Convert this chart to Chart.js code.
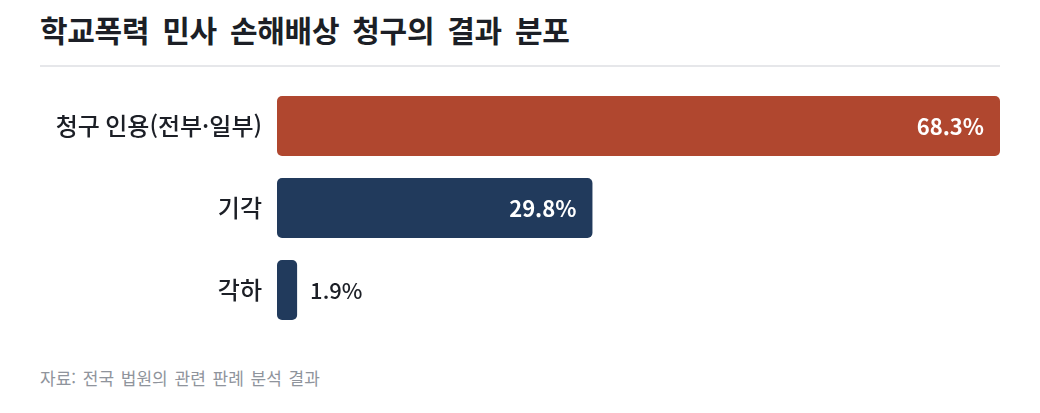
<!DOCTYPE html>
<html lang="ko">
<head>
<meta charset="utf-8">
<script src="https://cdn.jsdelivr.net/npm/chart.js@4.4.1/dist/chart.umd.min.js"></script>
<style>
  html, body { margin:0; padding:0; background:#ffffff; }
  body { width:1040px; height:413px; position:relative; overflow:hidden; font-family:"Noto Sans CJK KR","Noto Sans",sans-serif; }
  #title { position:absolute; left:40px; top:11px; font-size:30px; font-weight:700; color:#1c1f26; white-space:nowrap; letter-spacing:-0.3px; word-spacing:5px; line-height:1.2; }
  #rule { position:absolute; left:40px; top:65px; width:960px; height:2px; background:#e6e7ea; }
  #c { position:absolute; left:0; top:85px; }
  #source { position:absolute; left:40px; top:368px; font-size:17px; color:#8f949c; white-space:nowrap; word-spacing:2px; line-height:1.2; }
</style>
</head>
<body>
<div id="title">학교폭력 민사 손해배상 청구의 결과 분포</div>
<div id="rule"></div>
<canvas id="c" width="1040" height="246" style="width:1040px;height:246px"></canvas>
<div id="source">자료: 전국 법원의 관련 판례 분석 결과</div>
<script>
const categories = ["청구 인용(전부·일부)", "기각", "각하"];
const values = [68.3, 29.8, 1.9];
const barColors = ["#b0472f", "#213a5c", "#213a5c"];

const valueLabels = {
  id: "valueLabels",
  afterDatasetsDraw(chart) {
    const ctx = chart.ctx;
    const meta = chart.getDatasetMeta(0);
    ctx.save();
    ctx.textBaseline = "middle";
    meta.data.forEach((bar, i) => {
      const txt = values[i].toFixed(1) + "%";
      const w = bar.x - bar.base;
      if (w > 90) {
        ctx.font = "700 22px 'Noto Sans CJK KR', 'Noto Sans', sans-serif";
        ctx.fillStyle = "#ffffff";
        ctx.textAlign = "right";
        ctx.fillText(txt, bar.x - 16, bar.y + 1);
      } else {
        ctx.font = "500 22px 'Noto Sans CJK KR', 'Noto Sans', sans-serif";
        ctx.fillStyle = "#1c1f26";
        ctx.textAlign = "left";
        ctx.fillText(txt, bar.x + 13, bar.y + 1);
      }
    });
    ctx.restore();
  }
};

new Chart(document.getElementById("c"), {
  type: "bar",
  data: {
    labels: categories,
    datasets: [{
      data: values,
      backgroundColor: barColors,
      borderRadius: 5,
      borderSkipped: false,
      barPercentage: 1,
      categoryPercentage: 60 / 82
    }]
  },
  options: {
    indexAxis: "y",
    responsive: false,
    maintainAspectRatio: false,
    devicePixelRatio: 1,
    animation: false,
    layout: { padding: { left: 0, right: 40, top: 0, bottom: 0 } },
    plugins: { legend: { display: false }, tooltip: { enabled: false } },
    scales: {
      x: { display: false, min: 0, max: 68.3 },
      y: {
        grid: { display: false, drawTicks: false, tickLength: 0 },
        border: { display: false },
        ticks: {
          color: "#1c1f26",
          padding: 15,
          font: { family: "'Noto Sans CJK KR', 'Noto Sans', sans-serif", size: 24, weight: "500" }
        },
        afterFit(scale) {
          scale.width = 277;
          scale.paddingTop = 0;
          scale.paddingBottom = 0;
        }
      }
    }
  },
  plugins: [valueLabels]
});
</script>
</body>
</html>
